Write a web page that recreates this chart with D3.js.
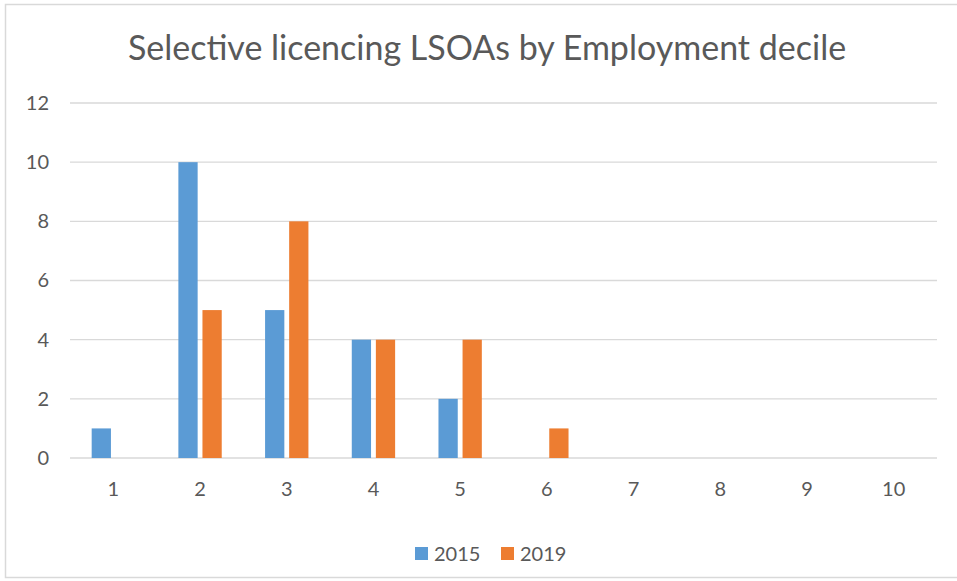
<!DOCTYPE html>
<meta charset="utf-8">
<head>
  <script src="https://cdn.jsdelivr.net/npm/d3@7"></script>
  <style>
    body { margin: 0; background: #fff; }
    .tick text { font-family: Lato, "Open Sans", sans-serif; fill: #595959; }
    .grid line { stroke: #d9d9d9; stroke-width: 1.3px; }
  </style>
</head>
<body>
  <div id="chart"></div>
  <script>
    // chart data
    var deciles = ["1", "2", "3", "4", "5", "6", "7", "8", "9", "10"];
    var seriesNames = ["2015", "2019"];
    var values2015 = [1, 10, 5, 4, 2, 0, 0, 0, 0, 0];
    var values2019 = [0, 5, 8, 4, 4, 1, 0, 0, 0, 0];
    var yTicks = [0, 2, 4, 6, 8, 10, 12];
    var colors = ["#5b9bd5", "#ed7d31"];

    var W = 957, H = 581;
    var margin = {top: 103, right: 20, bottom: 123, left: 70};
    var plotRight = 937;

    var svg = d3.select("#chart")
      .append("svg")
      .attr("width", W)
      .attr("height", H);

    // outer chart border
    svg.append("rect")
      .attr("x", 5.5).attr("y", 4.5)
      .attr("width", 970).attr("height", 573)
      .attr("fill", "none")
      .attr("stroke", "#d9d9d9")
      .attr("stroke-width", 1.5);

    var x0 = d3.scaleBand()
      .domain(deciles)
      .range([margin.left, plotRight])
      .paddingInner(0.5)
      .paddingOuter(0.25);

    var x1 = d3.scaleBand()
      .domain(seriesNames)
      .range([0, x0.bandwidth()])
      .paddingInner(0.2);

    var y = d3.scaleLinear()
      .domain([0, 12])
      .range([458, 103]);

    // gridlines
    svg.append("g")
      .attr("class", "grid")
      .selectAll("line")
      .data(yTicks)
      .enter()
      .append("line")
      .attr("x1", margin.left)
      .attr("x2", plotRight)
      .attr("y1", d => y(d))
      .attr("y2", d => y(d));

    // y axis labels
    var yAxis = svg.append("g")
      .attr("transform", "translate(" + margin.left + ",0)")
      .call(d3.axisLeft(y).tickValues(yTicks).tickSize(0).tickPadding(21));
    yAxis.select(".domain").remove();
    yAxis.selectAll("text").style("font-size", "20px");

    // x axis labels
    var xAxis = svg.append("g")
      .attr("transform", "translate(0," + y(0) + ")")
      .call(d3.axisBottom(x0).tickSize(0).tickPadding(24));
    xAxis.select(".domain").remove();
    xAxis.selectAll("text").style("font-size", "20px");

    var table = deciles.map((d, i) => ({
      decile: d,
      vals: [
        {name: seriesNames[0], value: values2015[i]},
        {name: seriesNames[1], value: values2019[i]}
      ]
    }));

    var color = d3.scaleOrdinal().domain(seriesNames).range(colors);

    svg.append("g")
      .selectAll("g")
      .data(table)
      .enter()
      .append("g")
      .attr("transform", d => "translate(" + x0(d.decile) + ",0)")
      .selectAll("rect")
      .data(d => d.vals.filter(v => v.value > 0))
      .enter()
      .append("rect")
      .attr("x", d => x1(d.name))
      .attr("width", x1.bandwidth())
      .attr("y", d => y(d.value))
      .attr("height", d => y(0) - y(d.value))
      .attr("fill", d => color(d.name));

    // title
    svg.append("text")
      .attr("x", 487)
      .attr("y", 60)
      .attr("text-anchor", "middle")
      .style("font-family", "Lato, 'Open Sans', sans-serif")
      .style("font-size", "34px")
      .style("fill", "#595959")
      .text("Selective licencing LSOAs by Employment decile");

    // legend
    var legend = svg.append("g")
      .selectAll("g")
      .data(seriesNames)
      .enter()
      .append("g")
      .attr("transform", (d, i) => "translate(" + (415 + i * 86) + ",547)");
    legend.append("rect")
      .attr("width", 13).attr("height", 13)
      .attr("fill", d => color(d));
    legend.append("text")
      .attr("x", 19)
      .attr("y", 14)
      .style("font-family", "Lato, 'Open Sans', sans-serif")
      .style("font-size", "20px")
      .style("fill", "#595959")
      .text(d => d);
  </script>
</body>
</html>
